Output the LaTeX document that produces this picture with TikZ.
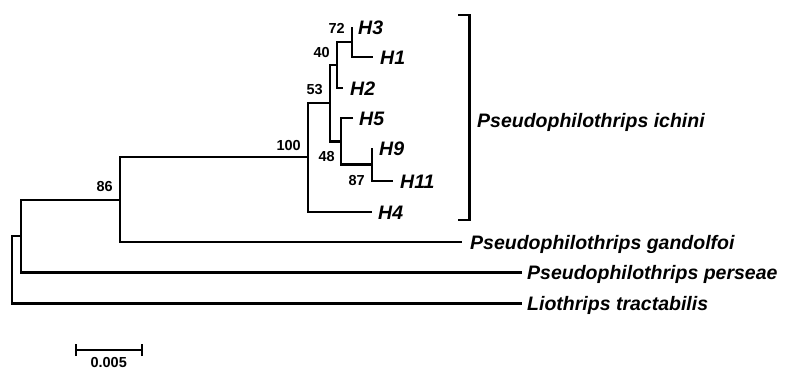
\documentclass[tikz,border=0pt]{standalone}
\usepackage{fontspec}
\setmainfont{Liberation Sans}
\begin{document}
\begin{tikzpicture}[x=1pt,y=-1pt,
  br/.style={line width=2.3pt, line join=miter},
  taxon/.style={font=\fontsize{19.5}{19.5}\selectfont\bfseries\itshape, inner sep=0pt, anchor=base west},
  boot/.style={font=\fontsize{14.5}{14.5}\selectfont\bfseries, inner sep=0pt, anchor=base east},
  scl/.style={font=\fontsize{14.5}{14.5}\selectfont\bfseries, inner sep=0pt, anchor=base}]
\useasboundingbox (0,0) rectangle (790,370);
% leaves
\coordinate (H3) at (352,27);
\coordinate (H1) at (373,57);
\coordinate (H2) at (343,88);
\coordinate (H5) at (353,118);
\coordinate (H9) at (372,148);
\coordinate (H11) at (393,181);
\coordinate (H4) at (372,212);
\coordinate (gan) at (462,242);
\coordinate (per) at (522,272.5);
\coordinate (lio) at (522,303.5);
% internal nodes
\coordinate (n72) at (352,42);
\coordinate (n40) at (337,65);
\coordinate (n87) at (372,164.5);
\coordinate (n48) at (341,141.5);
\coordinate (n53) at (330,103);
\coordinate (n100) at (308,157.3);
\coordinate (n86) at (120,200);
\coordinate (nA) at (21.3,236);
\coordinate (root) at (11.7,270);
% branches
\draw[br] (H3) -| (n72) |- (H1);
\draw[br] (n72) -| (n40) |- (H2);
\draw[br] (H9) -| (n87) |- (H11);
\draw[br] (H5) -| (n48) |- (n87);
\draw[br] (n40) -| (n53) |- (n48);
\draw[br] (n53) -| (n100) |- (H4);
\draw[br] (n100) -| (n86) |- (gan);
\draw[br] (n86) -| (nA) |- (per);
\draw[br] (nA) -| (root) |- (lio);
% taxon labels
\node[taxon] (tH3) at ([shift={(6,7)}]H3) {H3};
\node[taxon] (tH1) at ([shift={(7,7)}]H1) {H1};
\node[taxon] (tH2) at ([shift={(7,7)}]H2) {H2};
\node[taxon] (tH5) at ([shift={(6,7)}]H5) {H5};
\node[taxon] (tH9) at ([shift={(7,7)}]H9) {H9};
\node[taxon] (tH11) at ([shift={(7,7)}]H11) {H11};
\node[taxon] (tH4) at ([shift={(6,7)}]H4) {H4};
\node[taxon] (tgan) at ([shift={(8,7)}]gan) {Pseudophilothrips gandolfoi};
\node[taxon] (tper) at ([shift={(5,7)}]per) {Pseudophilothrips perseae};
\node[taxon] (tlio) at ([shift={(5,7)}]lio) {Liothrips tractabilis};
% bootstrap values
\node[boot] (b72) at (345,33) {72};
\node[boot] (b40) at (330,57) {40};
\node[boot] (b53) at (323,94) {53};
\node[boot] (b48) at (335,161) {48};
\node[boot] (b87) at (365,185) {87};
\node[boot] (b100) at (301,150) {100};
\node[boot] (b86) at (113,191) {86};
% bracket
\coordinate (bt) at (458,15);
\coordinate (bb) at (458,220);
\draw[br] (bt) -- ++(11.5,0) |- (bb);
\node[taxon] (tich) at (477,127) {Pseudophilothrips ichini};
% scale bar
\coordinate (s1) at (75.7,350);
\coordinate (s2) at (141.7,350);
\draw[br] (s1) -- (s2);
\draw[br] ([yshift=-6]s1) -- ([yshift=6]s1);
\draw[br] ([yshift=-6]s2) -- ([yshift=6]s2);
\node[scl] (sl) at (108.7,367.5) {0.005};
\end{tikzpicture}
\end{document}
